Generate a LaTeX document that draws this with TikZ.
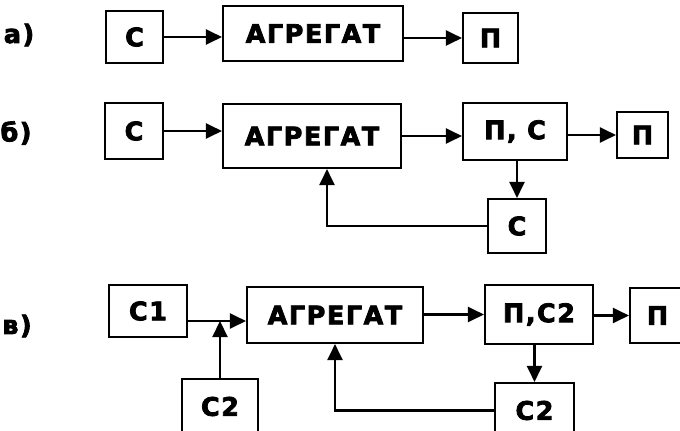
\documentclass[tikz,border=0pt]{standalone}
\usepackage{fontspec}
\setmainfont{DejaVu Sans}[BoldFeatures={FakeBold=3, LetterSpace=6}]
\usetikzlibrary{arrows.meta, calc, positioning}

\begin{document}
\begin{tikzpicture}[
    x=0.02cm, y=-0.02cm,
    >={Triangle[length=3.2mm,width=3mm]},
    every node/.style={font=\fontsize{14.5}{16}\selectfont\bfseries},
    box/.style={draw, line width=1.2pt, inner sep=0pt},
    link/.style={line width=1.2pt},
]
\useasboundingbox (0,0) rectangle (680,430);
\clip (0,0) rectangle (680,430);
% --- a) straight chain
\node (la) at (19,35) {а)};
\node[box, minimum width=1.14cm, minimum height=1.04cm] (aC) at (134.5,37) {С};
\node[box, minimum width=3.6cm, minimum height=1.1cm] (aAgg) at (313,33.5) {АГРЕГАТ};
\node[box, minimum width=1.1cm, minimum height=1.0cm] (aP) at (490.5,38) {П};
\draw[link,->] (aC.east) -- (aAgg.west |- aC.east);
\draw[link,->] (aAgg.east |- aP.west) -- (aP.west);
% --- б) with return of С
\node (lb) at (16,133) {б)};
\node[box, minimum width=1.16cm, minimum height=1.12cm] (bC) at (134,131) {С};
\node[box, minimum width=3.56cm, minimum height=1.28cm] (bAgg) at (312,136) {АГРЕГАТ};
\node[box, minimum width=2.08cm, minimum height=1.14cm] (bPC) at (515,131.5) {П, С};
\node[box, minimum width=1.02cm, minimum height=0.92cm] (bP) at (642.5,135) {П};
\node[box, minimum width=1.16cm, minimum height=1.08cm] (bC2) at (517,226) {С};
\draw[link,->] (bC.east) -- (bAgg.west |- bC.east);
\draw[link,->] (bAgg.east) -- (bAgg.east -| bPC.west);
\draw[link,->] (bPC.east |- bP.west) -- (bP.west);
\draw[link,->] (bPC.south -| bC2.north) -- (bC2.north);
\draw[link,->] (bC2.west) -| ([xshift=0.3cm]bAgg.south);
% --- в) with second input С2
\node (lc) at (17,326) {в)};
\node[box, minimum width=1.56cm, minimum height=1.04cm] (cC1) at (148,311) {С1};
\node[box, minimum width=1.52cm, minimum height=1.1cm] (cC2a) at (220,406.5) {С2};
\node[box, minimum width=3.52cm, minimum height=1.12cm] (cAgg) at (335,315) {АГРЕГАТ};
\node[box, minimum width=2.16cm, minimum height=1.18cm] (cPC) at (539,314.5) {П,С2};
\node[box, minimum width=1.1cm, minimum height=1.1cm] (cP) at (657.5,315.5) {П};
\node[box, minimum width=1.58cm, minimum height=1.1cm] (cC2b) at (534.5,410.5) {С2};
\coordinate (cj) at (220,321);
\draw[link,->] (cC1.east |- cj) -- (cAgg.west |- cj);
\draw[link,->] (cC2a.north) -- (cj);
\draw[link,->] (cAgg.east |- cPC.west) -- (cPC.west);
\draw[link,->] (cPC.east |- cP.west) -- (cP.west);
\draw[link,->] (cPC.south -| cC2b.north) -- (cC2b.north);
\draw[link,->] (cC2b.west) -| (cAgg.south);
\end{tikzpicture}
\end{document}
